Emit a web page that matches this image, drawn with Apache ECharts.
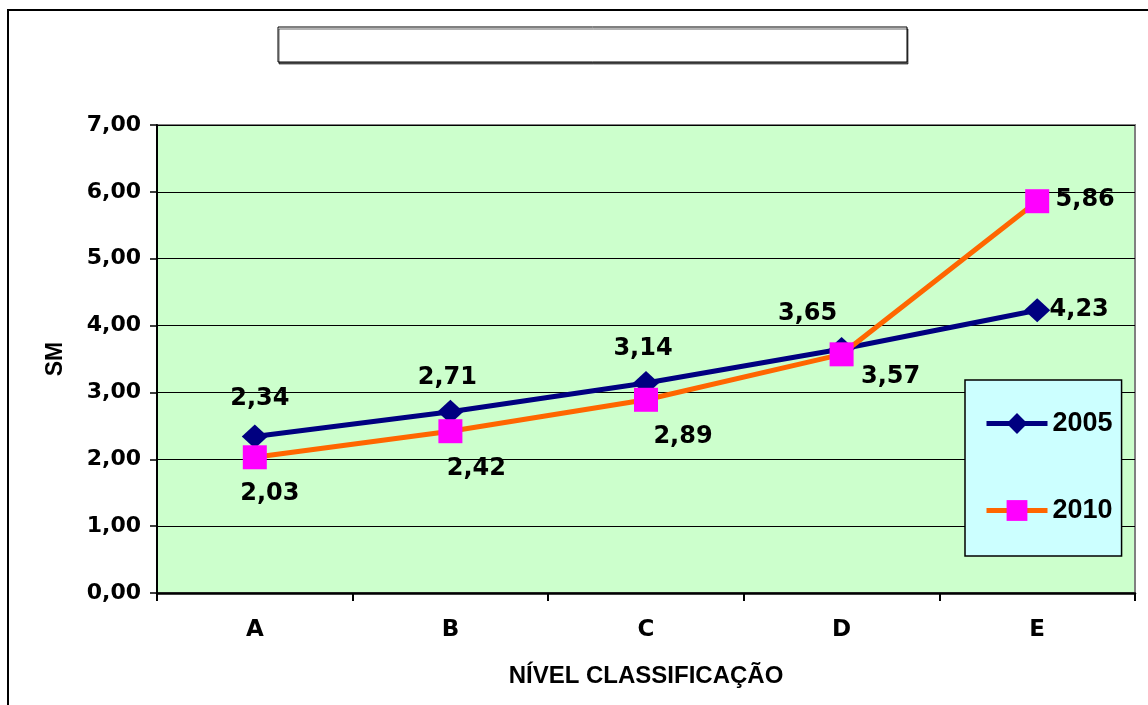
<!DOCTYPE html>
<html>
<head>
<meta charset="utf-8">
<title>SM por nível de classificação</title>
<script src="https://cdn.jsdelivr.net/npm/echarts@6/dist/echarts.min.js"></script>
<style>
  html, body { margin: 0; padding: 0; background: #ffffff; }
  #chart { width: 1148px; height: 705px; }
</style>
</head>
<body>
<div id="chart"></div>
<script>
// Data
const categories = ['A', 'B', 'C', 'D', 'E'];
const seriesNames = ['2005', '2010'];
const values2005 = [2.34, 2.71, 3.14, 3.65, 4.23];
const values2010 = [2.03, 2.42, 2.89, 3.57, 5.86];
const yTicks = [0, 1, 2, 3, 4, 5, 6, 7];

// Label placement (pixel offsets from each marker centre)
const labelOffsets2005 = [[5, -38], [-3, -34], [-3, -34], [-34, -35], [42, 0]];
const labelOffsets2010 = [[15, 36], [26, 38], [37, 37], [49, 22], [48, -1]];

const fmt = v => v.toFixed(2).replace('.', ',');
const verdanaLike = 'DejaVu Sans, Verdana, sans-serif';
const arialLike = 'Liberation Sans, Arial, sans-serif';

function buildPoints(values, offsets) {
  return values.map((v, i) => ({
    value: v,
    label: { offset: offsets[i] }
  }));
}

const labelStyle = {
  show: true,
  position: 'inside',
  formatter: p => fmt(p.value),
  fontFamily: verdanaLike,
  fontWeight: 'bold',
  fontSize: 24,
  color: '#000000'
};

const chart = echarts.init(document.getElementById('chart'), null, { renderer: 'canvas' });

chart.setOption({
  animation: false,
  backgroundColor: '#ffffff',
  graphic: [
    {
      type: 'rect',
      shape: { x: 8, y: 10, width: 1200, height: 760 },
      style: { fill: 'none', stroke: '#000000', lineWidth: 2 },
      z: 0
    },
    {
      type: 'rect',
      shape: { x: 278, y: 27, width: 629, height: 35 },
      style: {
        fill: '#ffffff', stroke: '#000000', lineWidth: 1,
        shadowColor: 'rgba(0,0,0,0.6)', shadowOffsetX: 1, shadowOffsetY: 2, shadowBlur: 0
      },
      z: 1
    }
  ],
  grid: {
    left: 157,
    top: 125,
    width: 978,
    height: 468,
    show: true,
    backgroundColor: '#ccffcc',
    borderColor: '#808080',
    borderWidth: 2,
    containLabel: false
  },
  legend: {
    orient: 'vertical',
    left: 965,
    top: 380,
    padding: [30, 9, 32, 19],
    itemGap: 60,
    itemWidth: 61,
    itemHeight: 26,
    backgroundColor: '#ccffff',
    borderColor: '#000000',
    borderWidth: 1.5,
    lineStyle: { width: 5 },
    textStyle: {
      fontFamily: arialLike,
      fontWeight: 'bold',
      fontSize: 27,
      lineHeight: 24,
      color: '#000000'
    },
    data: seriesNames
  },
  xAxis: {
    type: 'category',
    data: categories,
    boundaryGap: true,
    name: 'NÍVEL CLASSIFICAÇÃO',
    nameLocation: 'middle',
    nameGap: 71,
    nameTextStyle: {
      fontFamily: arialLike,
      fontWeight: 'bold',
      fontSize: 24,
      color: '#000000'
    },
    axisLine: { show: true, lineStyle: { color: '#000000', width: 2.5 } },
    axisTick: { show: true, length: 8, lineStyle: { color: '#000000', width: 2 } },
    axisLabel: {
      margin: 26,
      fontFamily: verdanaLike,
      fontWeight: 'bold',
      fontSize: 23,
      color: '#000000'
    },
    splitLine: { show: false }
  },
  yAxis: {
    type: 'value',
    min: yTicks[0],
    max: yTicks[yTicks.length - 1],
    interval: 1,
    name: 'SM',
    nameLocation: 'middle',
    nameGap: 90,
    nameRotate: 90,
    nameTextStyle: {
      fontFamily: arialLike,
      fontWeight: 'bold',
      fontSize: 23,
      color: '#000000'
    },
    axisLine: { show: true, lineStyle: { color: '#000000', width: 2 } },
    axisTick: { show: true, inside: false, length: 7, lineStyle: { color: '#000000', width: 1.5 } },
    axisLabel: {
      margin: 16,
      formatter: v => fmt(v),
      fontFamily: verdanaLike,
      fontWeight: 'bold',
      fontSize: 22,
      color: '#000000'
    },
    splitLine: { show: true, lineStyle: { color: '#000000', width: 1 } }
  },
  series: [
    {
      name: seriesNames[0],
      type: 'line',
      data: buildPoints(values2005, labelOffsets2005),
      symbol: 'diamond',
      symbolSize: [26, 24],
      lineStyle: { color: '#000080', width: 5 },
      itemStyle: { color: '#000080' },
      label: labelStyle,
      z: 3
    },
    {
      name: seriesNames[1],
      type: 'line',
      data: buildPoints(values2010, labelOffsets2010),
      symbol: 'rect',
      symbolSize: 24,
      lineStyle: { color: '#ff6600', width: 5 },
      itemStyle: { color: '#ff00ff' },
      label: labelStyle,
      z: 4
    }
  ]
});
</script>
</body>
</html>
